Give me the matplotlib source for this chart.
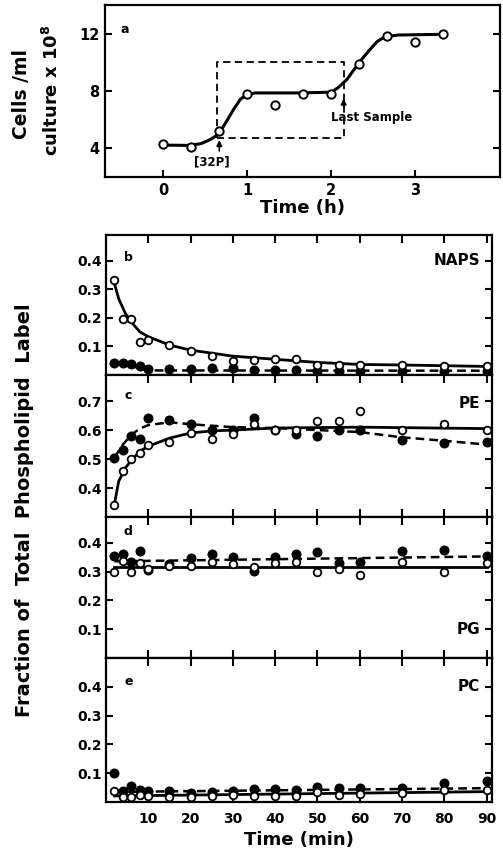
import matplotlib
matplotlib.use("Agg")
import matplotlib.pyplot as plt

plt.rcParams['font.family'] = ['DejaVu Sans']
plt.rcParams['font.weight'] = 'bold'

# ---------------- Panel a data ----------------
a_time_h = [0, 0.33, 0.67, 1.0, 1.33, 1.67, 2.0, 2.33, 2.67, 3.0, 3.33]
a_cells = [4.3, 4.1, 5.2, 7.8, 7.0, 7.8, 7.8, 9.9, 11.8, 11.4, 12.0]
a_curve_t = [0, 0.3, 0.45, 0.55, 0.62, 0.67, 0.75, 0.84, 0.92, 1.0, 1.1, 1.3, 1.6, 2.0, 2.08,
             2.19, 2.33, 2.45, 2.55, 2.62, 2.67, 2.8, 3.0, 3.33]
a_curve_y = [4.2, 4.18, 4.3, 4.55, 4.8, 5.05, 5.8, 6.7, 7.4, 7.75, 7.85, 7.85, 7.85, 7.9, 8.2,
             8.8, 9.95, 10.8, 11.45, 11.7, 11.8, 11.9, 11.92, 11.95]
a_xticks = [0, 1, 2, 3]
a_yticks = [4, 8, 12]

# ---------------- Lower panels data ----------------
t_min = [2, 4, 6, 8, 10, 15, 20, 25, 30, 35, 40, 45, 50, 55, 60, 70, 80, 90]

naps_open = [0.331, 0.195, 0.195, 0.116, 0.122, 0.105, 0.084, 0.066, 0.050, 0.052,
             0.055, 0.055, 0.035, 0.035, 0.035, 0.035, 0.032, 0.030]
naps_filled = [0.043, 0.043, 0.037, 0.032, 0.020, 0.020, 0.020, 0.025, 0.025, 0.018,
               0.018, 0.018, 0.015, 0.015, 0.015, 0.015, 0.015, 0.015]
naps_open_fit_t = [2, 3, 4.6, 6.3, 8, 10, 15, 20, 30, 40, 50, 60, 70, 90]
naps_open_fit = [0.32, 0.267, 0.215, 0.18, 0.151, 0.134, 0.105, 0.087, 0.066, 0.055,
                 0.044, 0.037, 0.035, 0.030]
naps_filled_fit_t = [2, 4, 6, 8, 10, 90]
naps_filled_fit = [0.045, 0.040, 0.033, 0.022, 0.016, 0.015]

pe_open = [0.34, 0.46, 0.50, 0.52, 0.55, 0.56, 0.59, 0.57, 0.585, 0.62,
           0.60, 0.60, 0.63, 0.63, 0.666, 0.60, 0.62, 0.60]
pe_filled = [0.505, 0.53, 0.58, 0.57, 0.64, 0.635, 0.62, 0.60, 0.60, 0.64,
             0.60, 0.585, 0.58, 0.60, 0.60, 0.565, 0.555, 0.56]
pe_open_fit_t = [2, 3, 4.6, 6.3, 8, 10, 15, 20, 25, 30, 40, 60, 90]
pe_open_fit = [0.345, 0.423, 0.47, 0.50, 0.527, 0.544, 0.572, 0.59, 0.597, 0.60, 0.607, 0.61, 0.605]
pe_filled_fit_t = [2, 4, 6, 8, 10, 15, 20, 30, 40, 50, 60, 70, 80, 90]
pe_filled_fit = [0.505, 0.55, 0.584, 0.605, 0.617, 0.627, 0.62, 0.61, 0.607, 0.60,
                 0.593, 0.575, 0.563, 0.55]

pg_open = [0.30, 0.337, 0.30, 0.33, 0.31, 0.32, 0.32, 0.335, 0.328, 0.315,
           0.33, 0.335, 0.30, 0.31, 0.289, 0.335, 0.30, 0.33]
pg_filled = [0.356, 0.362, 0.335, 0.373, 0.306, 0.328, 0.346, 0.362, 0.35, 0.302,
             0.35, 0.362, 0.369, 0.33, 0.335, 0.373, 0.377, 0.356]
pg_open_fit_t = [2, 90]
pg_open_fit = [0.316, 0.316]
pg_filled_fit_t = [2, 90]
pg_filled_fit = [0.336, 0.353]

pc_open = [0.039, 0.019, 0.019, 0.025, 0.020, 0.019, 0.019, 0.022, 0.024, 0.020,
           0.020, 0.020, 0.033, 0.025, 0.028, 0.030, 0.042, 0.042]
pc_filled = [0.10, 0.039, 0.054, 0.042, 0.039, 0.039, 0.030, 0.036, 0.039, 0.044,
             0.044, 0.042, 0.051, 0.048, 0.048, 0.048, 0.065, 0.074]
pc_open_fit_t = [2, 90]
pc_open_fit = [0.021, 0.036]
pc_filled_fit_t = [2, 90]
pc_filled_fit = [0.035, 0.048]

lower_xticks = [10, 20, 30, 40, 50, 60, 70, 80, 90]

panels = [
    dict(letter='b', name='NAPS', ylim=(0, 0.49), yticks=[0.1, 0.2, 0.3, 0.4],
         open=naps_open, filled=naps_filled,
         ofit=(naps_open_fit_t, naps_open_fit), ffit=(naps_filled_fit_t, naps_filled_fit),
         name_y=0.40, letter_y=0.41),
    dict(letter='c', name='PE', ylim=(0.30, 0.79), yticks=[0.4, 0.5, 0.6, 0.7],
         open=pe_open, filled=pe_filled,
         ofit=(pe_open_fit_t, pe_open_fit), ffit=(pe_filled_fit_t, pe_filled_fit),
         name_y=0.69, letter_y=0.72),
    dict(letter='d', name='PG', ylim=(0, 0.49), yticks=[0.1, 0.2, 0.3, 0.4],
         open=pg_open, filled=pg_filled,
         ofit=(pg_open_fit_t, pg_open_fit), ffit=(pg_filled_fit_t, pg_filled_fit),
         name_y=0.10, letter_y=0.44),
    dict(letter='e', name='PC', ylim=(0, 0.50), yticks=[0.1, 0.2, 0.3, 0.4],
         open=pc_open, filled=pc_filled,
         ofit=(pc_open_fit_t, pc_open_fit), ffit=(pc_filled_fit_t, pc_filled_fit),
         name_y=0.40, letter_y=0.42),
]

W, H = 503, 855
fig = plt.figure(figsize=(W / 100, H / 100), dpi=100)

def box(l, t, r, b):
    return [l / W, 1 - b / H, (r - l) / W, (b - t) / H]

LW_SP = 1.6
MS = 6.0

# ---------------- Panel a ----------------
ax = fig.add_axes(box(105, 5, 500, 177))
ax.plot(a_curve_t, a_curve_y, color='black', lw=2.2, zorder=2)
ax.plot(a_time_h, a_cells, 'o', ms=MS, mfc='white', mec='black', mew=1.4, zorder=3)
ax.plot([0.64, 0.64, 2.15, 2.15, 0.64], [4.72, 10.0, 10.0, 4.72, 4.72],
        color='black', lw=1.3, ls=(0, (4, 2.5)), zorder=1)
ax.annotate('', xy=(0.67, 4.75), xytext=(0.67, 3.6),
            arrowprops=dict(arrowstyle='-|>', color='black', lw=1.2, mutation_scale=8))
ax.text(0.58, 3.0, '[32P]', ha='center', va='center', fontsize=8.5, fontweight='bold')
ax.annotate('', xy=(2.15, 7.65), xytext=(2.15, 6.7),
            arrowprops=dict(arrowstyle='-|>', color='black', lw=1.2, mutation_scale=8))
ax.text(2.48, 6.1, 'Last Sample', ha='center', va='center', fontsize=8.5, fontweight='bold')
ax.text(-0.45, 12.3, 'a', ha='center', va='center', fontsize=9, fontweight='bold')
ax.set_xlim(-0.69, 4.01)
ax.set_ylim(1.97, 14.0)
ax.set_xticks(a_xticks)
ax.set_yticks(a_yticks)
ax.tick_params(axis='both', direction='in', length=5, width=1.5, labelsize=10.5, pad=4)
ax.tick_params(axis='y', right=True)
for s in ax.spines.values():
    s.set_linewidth(LW_SP)
ax.set_xlabel('Time (h)', fontsize=13, fontweight='bold', labelpad=1)
fig.text(22 / W, 1 - 94 / H, 'Cells /ml', rotation=90, ha='center', va='center',
         fontsize=13.5, fontweight='bold')
fig.text(52 / W, 1 - 90 / H, 'culture x 10$^{\\mathbf{8}}$', rotation=90, ha='center', va='center',
         fontsize=13, fontweight='bold')

# ---------------- Lower panels ----------------
tops = [235, 375, 517, 658]
bots = [375, 517, 658, 802]
axes = []
for p, tp, bt in zip(panels, tops, bots):
    ax = fig.add_axes(box(106, tp, 492, bt))
    axes.append(ax)
    ax.plot(p['ffit'][0], p['ffit'][1], color='black', lw=1.8, ls=(0, (3.5, 2)), zorder=2)
    ax.plot(p['ofit'][0], p['ofit'][1], color='black', lw=2.0, zorder=2)
    ax.plot(t_min, p['filled'], 'o', ms=MS, mfc='black', mec='black', mew=1.2, zorder=3)
    ax.plot(t_min, p['open'], 'o', ms=MS - 0.5, mfc='white', mec='black', mew=1.3, zorder=4)
    ax.set_xlim(0, 91.3)
    ax.set_ylim(*p['ylim'])
    ax.set_xticks(lower_xticks)
    ax.set_yticks(p['yticks'])
    ax.set_yticklabels([f'{v:.1f}' for v in p['yticks']])
    ax.tick_params(axis='both', direction='in', length=5, width=1.5, labelsize=10, pad=3)
    ax.tick_params(axis='x', top=True, bottom=True, length=6)
    ax.tick_params(axis='y', right=True)
    for s in ax.spines.values():
        s.set_linewidth(LW_SP)
    ax.text(88.5, p['name_y'], p['name'], ha='right', va='center', fontsize=11, fontweight='bold')
    ax.text(5.3, p['letter_y'], p['letter'], ha='center', va='center', fontsize=9, fontweight='bold')
    if p is not panels[-1]:
        ax.tick_params(axis='x', labelbottom=False)
    else:
        ax.tick_params(axis='x', pad=7)
        ax.set_xlabel('Time (min)', fontsize=13, fontweight='bold', labelpad=4)

fig.text(25 / W, 1 - 510 / H, 'Fraction of  Total  Phospholipid  Label', rotation=90,
         ha='center', va='center', fontsize=14, fontweight='bold')

fig.savefig('out.png', dpi=100)
